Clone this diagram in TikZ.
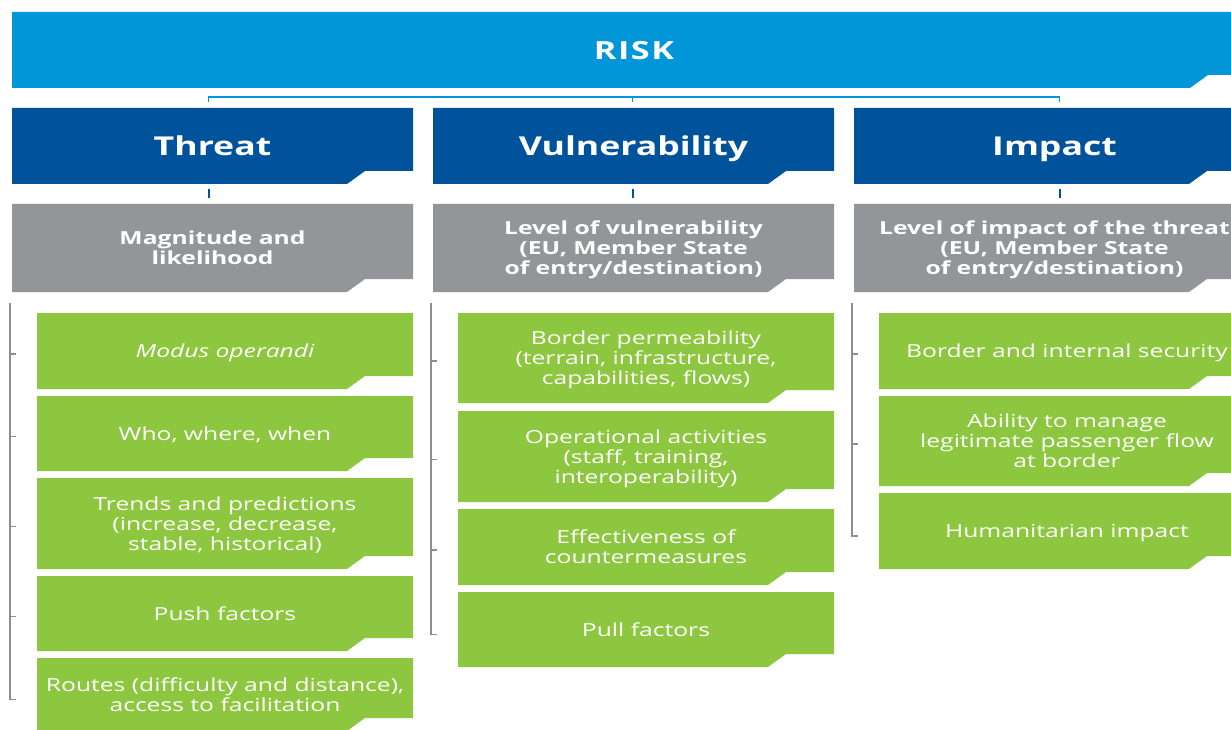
\documentclass[tikz,border=0pt]{standalone}
\usepackage{fontspec}
\setmainfont{Open Sans}[FakeStretch=1.37]
\usepackage{tikz}
\usetikzlibrary{backgrounds}

\definecolor{riskblue}{RGB}{0,150,215}
\definecolor{headblue}{RGB}{0,82,155}
\definecolor{boxgray}{RGB}{147,149,152}
\definecolor{boxgreen}{RGB}{141,198,63}
\definecolor{linegray}{RGB}{140,142,145}

\begin{document}
\begin{tikzpicture}[x=1pt,y=-1pt,
  box/.style={anchor=north west, inner sep=0pt, outer sep=0pt, text=white, align=center, text depth=-9pt},
  riskbox/.style={box, minimum width=1244, minimum height=76, font=\fontsize{25}{30}\selectfont\bfseries\addfontfeature{LetterSpace=6}},
  headbox/.style={box, minimum width=401, minimum height=76, font=\fontsize{26}{30}\selectfont\bfseries},
  levelbox/.style={box, minimum width=401, minimum height=88, font=\fontsize{18}{20}\selectfont\bfseries},
  itembox/.style={box, minimum width=376, font=\fontsize{18}{20}\selectfont},
  riskline/.style={riskblue, line width=1.5pt},
  tickline/.style={headblue, line width=2pt},
  bracket/.style={linegray, line width=1.2pt}]
\useasboundingbox (0,0) rectangle (1231,730);
\clip (0,0) rectangle (1231,730);

\node[riskbox] (risk) at (12,12) {RISK};

\node[headbox] (threat) at (12,108) {Threat};
\node[headbox] (vuln) at (433,108) {Vulnerability};
\node[headbox] (impact) at (854,108) {Impact};

\node[levelbox] (mag) at (12,204) {Magnitude and\\likelihood};
\node[levelbox] (lov) at (433,204) {Level of vulnerability\\(EU, Member State\\of entry/destination)};
\node[levelbox] (loi) at (854,204) {Level of impact of the threat\\(EU, Member State\\of entry/destination)};

% threat items
\node[itembox, minimum height=76] (mo) at (37,313) {\itshape Modus operandi};
\node[itembox, minimum height=75] (www) at (37,396) {Who, where, when};
\node[itembox, minimum height=91] (trends) at (37,478) {Trends and predictions\\(increase, decrease,\\stable, historical)};
\node[itembox, minimum height=75] (push) at (37,576) {Push factors};
\node[itembox, minimum height=73] (routes) at (37,658) {Routes (difficulty and distance),\\access to facilitation};

% vulnerability items
\node[itembox, minimum height=90] (bp) at (458,313) {Border permeability\\(terrain, infrastructure,\\capabilities, flows)};
\node[itembox, minimum height=91] (oa) at (458,411) {Operational activities\\(staff, training,\\interoperability)};
\node[itembox, minimum height=76] (eff) at (458,509) {Effectiveness of\\countermeasures};
\node[itembox, minimum height=75] (pull) at (458,592) {Pull factors};

% impact items
\node[itembox, minimum height=76] (bis) at (879,313) {Border and internal security};
\node[itembox, minimum height=90] (ab) at (879,396) {Ability to manage\\legitimate passenger flow\\at border};
\node[itembox, minimum height=76] (hum) at (879,493) {Humanitarian impact};

% notched fills
\begin{scope}[on background layer]
\fill[white] (0,0) rectangle (1231,730);
\clip (0,0) rectangle (1231,730);
\foreach \n/\c in {risk/riskblue, threat/headblue, vuln/headblue, impact/headblue,
  mag/boxgray, lov/boxgray, loi/boxgray,
  mo/boxgreen, www/boxgreen, trends/boxgreen, push/boxgreen, routes/boxgreen,
  bp/boxgreen, oa/boxgreen, eff/boxgreen, pull/boxgreen,
  bis/boxgreen, ab/boxgreen, hum/boxgreen}
  \fill[\c] (\n.north west) -- (\n.north east) -- ([yshift=13]\n.south east)
    -- ([xshift=-48,yshift=13]\n.south east) -- ([xshift=-66]\n.south east)
    -- (\n.south west) -- cycle;
\end{scope}

\draw[riskline] ([xshift=-4,yshift=6]threat.north) |- ([xshift=-1,yshift=11]vuln.north)
  -| ([xshift=5,yshift=6]impact.north);
\draw[riskline] ([xshift=-1,yshift=11]vuln.north) -- ([xshift=-1,yshift=6]vuln.north);

\draw[tickline] ([xshift=-4,yshift=-5]threat.south) -- ([xshift=-4,yshift=6]mag.north);
\draw[tickline] ([xshift=-1,yshift=-5]vuln.south) -- ([xshift=-1,yshift=6]lov.north);
\draw[tickline] ([xshift=5,yshift=-5]impact.south) -- ([xshift=5,yshift=6]loi.north);

\foreach \t/\l/\r in {mo/routes/{mo,www,trends,push}, bp/pull/{bp,oa,eff}, bis/hum/{bis,ab}} {
  \draw[bracket] ([xshift=-27,yshift=10]\t.north west) |- ([xshift=-21,yshift=-5]\l.west);
  \foreach \b in \r
    \draw[bracket] ([xshift=-27,yshift=-3]\b.west) -- ++(6,0);
}
\end{tikzpicture}
\end{document}
